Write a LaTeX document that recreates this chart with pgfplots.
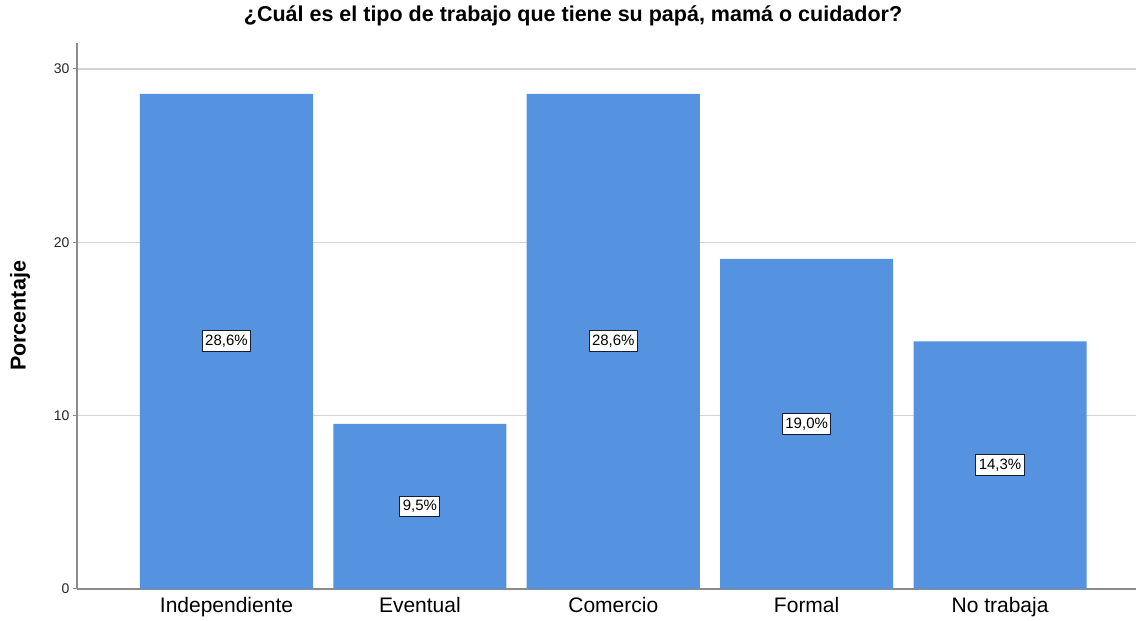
\documentclass[border=0pt]{standalone}
\usepackage{fontspec}
\setmainfont{Liberation Sans}
\usepackage{pgfplots}
\usepackage{pgfplotstable}
\pgfplotsset{compat=1.18}
\definecolor{barblue}{RGB}{85,146,224}
\definecolor{gridgray}{RGB}{212,212,212}
\definecolor{axisgray}{RGB}{140,140,140}
\definecolor{boxline}{RGB}{20,30,50}

\pgfplotstableread{
x  pct    lab
0  28.57  {28,6\%}
1  9.52   {9,5\%}
2  28.57  {28,6\%}
3  19.05  {19,0\%}
4  14.29  {14,3\%}
}\trabajo

\begin{document}
\begin{tikzpicture}
\path[use as bounding box] (-77pt,-32pt) rectangle (1059pt,589pt);
\begin{axis}[
  at={(0pt,0pt)}, anchor=south west,
  scale only axis,
  width=1059pt, height=546pt,
  xmin=-0.773, xmax=4.703,
  ymin=0, ymax=31.5,
  axis x line*=bottom,
  axis y line*=left,
  axis line style={axisgray, line width=1.2pt, -},
  xtick=data,
  xticklabels={Independiente,Eventual,Comercio,Formal,No trabaja},
  major x tick style={draw=none},
  xticklabel style={font=\fontsize{21}{24}\selectfont, yshift=-1pt},
  ytick={0,10,20,30},
  yticklabel style={font=\fontsize{14}{16}\selectfont, text=black!85},
  major y tick style={axisgray, line width=1pt},
  tick align=outside,
  major tick length=4pt,
  ymajorgrids,
  grid style={gridgray, line width=1.4pt},
  /pgf/number format/assume math mode=true,
]
\addplot[ybar, bar width=0.895, fill=barblue, draw=none]
  table[x=x, y=pct] {\trabajo};
% value labels at half the bar height
\addplot[draw=none, mark=none,
  nodes near coords={\pgfplotspointmeta},
  point meta=explicit symbolic,
  nodes near coords align={center},
  nodes near coords style={
    font=\fontsize{15}{16}\selectfont,
    fill=white, draw=boxline, line width=1pt,
    inner xsep=2.8pt, inner ysep=4.5pt,
    text depth=0.15em, anchor=center},
] table[x=x, y expr=\thisrow{pct}/2, meta=lab] {\trabajo};
\end{axis}
\node[font=\bfseries\fontsize{21.5}{24}\selectfont] at (496pt,573pt) {¿Cuál es el tipo de trabajo que tiene su papá, mamá o cuidador?};
\node[font=\bfseries\fontsize{21.5}{24}\selectfont, rotate=90] at (-57pt,273pt) {Porcentaje};
\end{tikzpicture}
\end{document}
